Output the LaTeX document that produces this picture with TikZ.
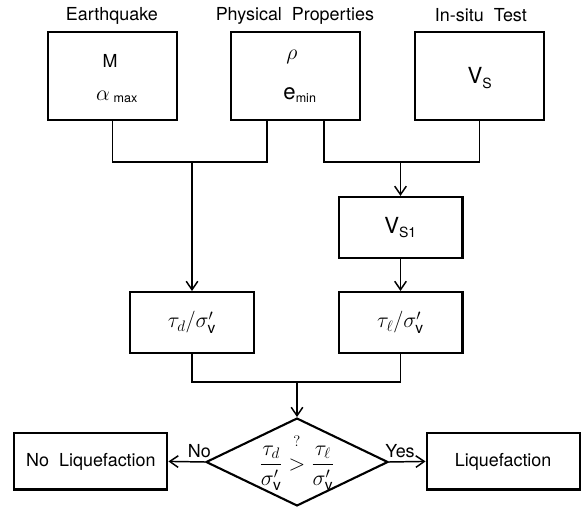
\documentclass[tikz,border=0pt]{standalone}
\usepackage{fontspec}
\setmainfont{TeX Gyre Heros}
\usetikzlibrary{shapes.geometric,arrows.meta}

\begin{document}
\begin{tikzpicture}[
        font=\fontsize{17}{20}\selectfont,
        >={Straight Barb[length=8pt,width=11pt]},
        inbox/.style={draw, line width=2pt, minimum width=4.3cm, minimum height=2.93cm},
        midbox/.style={draw, line width=2pt, minimum width=4.13cm, minimum height=2.03cm},
        endbox/.style={draw, line width=2pt, minimum width=5.1cm, minimum height=1.87cm},
        decision/.style={draw, diamond, line width=2pt, inner sep=0pt, minimum width=6.07cm, minimum height=2.93cm},
        bigmath/.style={font=\fontsize{21}{24}\selectfont},
        wire/.style={line width=1.4pt}
    ]
        	\useasboundingbox (0, 0) rectangle (19.4, 16.93);
        	% Input boxes and their labels:
        	\node[inbox] (eq) at (3.75, 14.4){};
        	\node[inbox] (phys) at (9.85, 14.4){};
        	\node[inbox] (insitu) at (15.98, 14.4){};
        	\node (eqlabel) at (3.73, 16.4){Earthquake};
        	\node (physlabel) at (9.83, 16.4){Physical\ \ Properties};
        	\node (insitulabel) at (16.03, 16.43){In-situ\ \ Test};
        	\node (mag) at (3.67, 14.9){M};
        	\node[bigmath] (amax) at (3.9, 13.7){$\alpha$\,{\fontsize{17}{20}\selectfont\textsubscript{max}}};
        	\node[bigmath] (rho) at (9.73, 15.03){$\rho$};
        	\node[bigmath] (emin) at (10.0, 13.77){e{\fontsize{17}{20}\selectfont\textsubscript{min}}};
        	\node[bigmath] (vs) at (16.0, 14.33){V{\fontsize{19}{20}\selectfont\textsubscript{S}}};
        	% Middle boxes:
        	\node[midbox, bigmath] (vs1) at (13.35, 9.35){V{\fontsize{19}{20}\selectfont\textsubscript{S1}}};
        	\node[midbox, bigmath] (taud) at (6.4, 6.18){$\tau_d/\sigma'_{\mathrm{v}}$};
        	\node[midbox, bigmath] (taul) at (13.35, 6.18){$\tau_\ell/\sigma'_{\mathrm{v}}$};
        	% Decision and results:
        	\node[decision] (dec) at (9.9, 1.53){};
        	\node[bigmath] (cond) at (9.9, 1.5){$\displaystyle\frac{\tau_d}{\sigma'_{\mathrm{v}}} \stackrel{\raisebox{9pt}{$\scriptstyle ?$}}{>} \frac{\tau_\ell}{\sigma'_{\mathrm{v}}}$};
        	\node[endbox] (noliq) at (3.03, 1.55){No\ \ Liquefaction};
        	\node[endbox] (liq) at (16.77, 1.55){Liquefaction};
        	% Junctions:
        	\coordinate (j1) at (6.4, 11.53);
        	\coordinate (j2) at (13.35, 11.53);
        	\coordinate (j3) at (9.9, 4.2);
        	% Wires:
        	\draw[wire] (eq.south) |- (j1) -| ([xshift=-0.95cm]phys.south);
        	\draw[wire] ([xshift=0.95cm]phys.south) |- (j2) -| (insitu.south);
        	\draw[wire, ->] (j1) -- (taud.north);
        	\draw[wire, ->] (j2) -- (vs1.north);
        	\draw[wire, ->] (vs1.south) -- (taul.north);
        	\draw[wire] (taud.south) |- (j3) -| (taul.south);
        	\draw[wire, ->] (j3) -- (dec.north);
        	\draw[wire, ->] (dec.west) -- node[above, pos=0.15]{No} (noliq.east);
        	\draw[wire, ->] (dec.east) -- node[above, pos=0.3]{Yes} (liq.west);
        \end{tikzpicture}
\end{document}
